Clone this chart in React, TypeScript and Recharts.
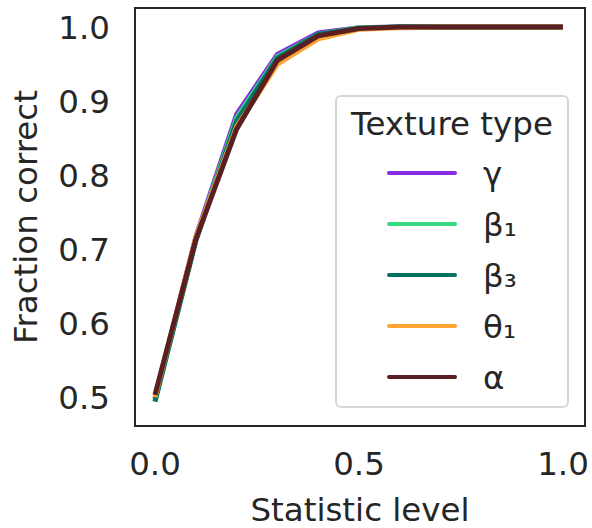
import React from 'react';
import { LineChart, Line, XAxis, YAxis, Legend, ReferenceArea, Label } from 'recharts';

const FONT = '"DejaVu Sans", sans-serif';
const INK = '#262626';
const FS = 32.5;

const levels = [0, 0.1, 0.2, 0.3, 0.4, 0.5, 0.6, 0.7, 0.8, 0.9, 1.0];

const gamma = [0.498, 0.716, 0.882, 0.963, 0.992, 0.999, 1, 1, 1, 1, 1];
const beta1 = [0.496, 0.713, 0.877, 0.96, 0.99, 0.999, 1, 1, 1, 1, 1];
const beta3 = [0.494, 0.711, 0.873, 0.958, 0.99, 0.998, 1, 1, 1, 1, 1];
const theta1 = [0.5, 0.716, 0.865, 0.95, 0.984, 0.997, 0.999, 1, 1, 1, 1];
const alpha = [0.503, 0.713, 0.862, 0.955, 0.988, 0.998, 1, 1, 1, 1, 1];

const xTicks = [0, 0.5, 1.0];
const yTicks = [0.5, 0.6, 0.7, 0.8, 0.9, 1.0];

const series = [
  { key: 'gamma', name: 'γ', color: '#8a2be2', values: gamma },
  { key: 'beta1', name: 'β₁', color: '#36dc85', values: beta1 },
  { key: 'beta3', name: 'β₃', color: '#007461', values: beta3 },
  { key: 'theta1', name: 'θ₁', color: '#ffa432', values: theta1 },
  { key: 'alpha', name: 'α', color: '#5a1f22', values: alpha },
];

const data = levels.map((lv, i) => {
  const row: Record<string, number> = { level: lv };
  series.forEach((s) => {
    row[s.key] = s.values[i];
  });
  return row;
});

function TextureLegend() {
  return (
    <div
      style={{
        position: 'relative',
        width: 230,
        height: 309,
        border: '2px solid #d6d6d6',
        borderRadius: 6,
        background: 'rgba(255,255,255,0.85)',
        fontFamily: FONT,
        color: INK,
      }}
    >
      <div
        style={{
          position: 'absolute',
          left: 0,
          right: 0,
          top: 7,
          textAlign: 'center',
          fontSize: FS,
          lineHeight: '40px',
          whiteSpace: 'nowrap',
        }}
      >
        Texture type
      </div>
      {series.map((s, i) => (
        <React.Fragment key={s.key}>
          <div
            style={{
              position: 'absolute',
              left: 50,
              width: 70,
              top: 74 + i * 51,
              height: 4,
              borderRadius: 2,
              background: s.color,
            }}
          />
          <div
            style={{
              position: 'absolute',
              left: 146,
              top: 57 + i * 51,
              fontSize: FS,
              lineHeight: '40px',
            }}
          >
            {s.name}
          </div>
        </React.Fragment>
      ))}
    </div>
  );
}

export default function App() {
  return (
    <div style={{ position: 'absolute', left: 0, top: 0, background: '#fff' }}>
      <LineChart
        width={592}
        height={528}
        data={data}
        margin={{ top: 8, right: 7, left: 0, bottom: 0 }}
        style={{ fontFamily: FONT }}
      >
        <XAxis
          dataKey="level"
          type="number"
          domain={[-0.049, 1.054]}
          ticks={xTicks}
          tickFormatter={(v: number) => v.toFixed(1)}
          height={102}
          axisLine={false}
          tickLine={false}
          tickSize={0}
          tickMargin={26}
          tick={{ fill: INK, fontSize: FS, fontFamily: FONT }}
          allowDataOverflow
        >
          <Label
            value="Statistic level"
            position="insideBottom"
            offset={7}
            style={{ fill: INK, fontSize: FS, fontFamily: FONT }}
          />
        </XAxis>
        <YAxis
          type="number"
          domain={[0.461, 1.0257]}
          ticks={yTicks}
          tickFormatter={(v: number) => v.toFixed(1)}
          width={135}
          axisLine={false}
          tickLine={false}
          tickSize={0}
          tickMargin={25}
          tick={{ fill: INK, fontSize: FS, fontFamily: FONT }}
          allowDataOverflow
        >
          <Label
            value="Fraction correct"
            angle={-90}
            position="insideLeft"
            offset={0}
            dx={25}
            style={{ fill: INK, fontSize: FS, fontFamily: FONT, textAnchor: 'middle' }}
          />
        </YAxis>
        {series.map((s) => (
          <Line
            key={s.key}
            dataKey={s.key}
            name={s.name}
            stroke={s.color}
            strokeWidth={5}
            dot={false}
            activeDot={false}
            isAnimationActive={false}
            type="linear"
          />
        ))}
        <ReferenceArea
          x1={-0.049}
          x2={1.054}
          y1={0.461}
          y2={1.0257}
          fill="none"
          stroke={INK}
          strokeWidth={2}
          ifOverflow="visible"
        />
        <Legend
          layout="vertical"
          align="center"
          verticalAlign="middle"
          wrapperStyle={{ left: 335, top: 95, width: 234 }}
          content={() => <TextureLegend />}
        />
      </LineChart>
    </div>
  );
}
